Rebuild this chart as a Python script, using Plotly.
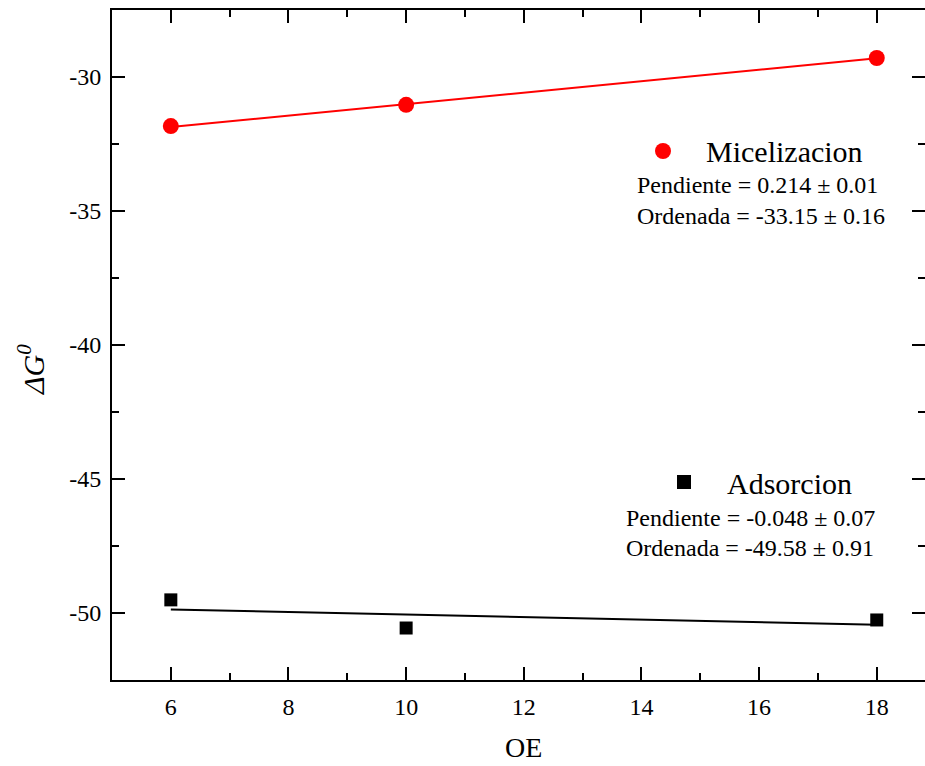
import plotly.graph_objects as go

oe = [6, 10, 18]
mic_vals = [-31.83, -31.04, -29.29]
ads_vals = [-49.51, -50.56, -50.26]
fit_x = [6, 18]
mic_fit = [-31.87, -29.30]
ads_fit = [-49.87, -50.44]

x_ticks = [6, 8, 10, 12, 14, 16, 18]
y_ticks = [-30, -35, -40, -45, -50]
y_ticktext = ["-30", "-35", "-40", "-45", "-50"]

mic_text = ["Pendiente = 0.214 ± 0.01", "Ordenada = -33.15 ± 0.16"]
ads_text = ["Pendiente = -0.048 ± 0.07", "Ordenada = -49.58 ± 0.91"]

FONT = "Liberation Serif, Times New Roman, serif"
XR = [5, 18.82]
YR = [-52.5, -27.5]

fig = go.Figure()
fig.add_trace(go.Scatter(x=fit_x, y=mic_fit, mode="lines", line=dict(color="red", width=2), showlegend=False))
fig.add_trace(go.Scatter(x=fit_x, y=ads_fit, mode="lines", line=dict(color="black", width=2), showlegend=False))
fig.add_trace(go.Scatter(x=oe, y=mic_vals, mode="markers", marker=dict(color="red", size=16, symbol="circle"), showlegend=False))
fig.add_trace(go.Scatter(x=oe, y=ads_vals, mode="markers", marker=dict(color="black", size=13, symbol="square"), showlegend=False))
# dummy trace to activate secondary axes
fig.add_trace(go.Scatter(x=[None], y=[None], xaxis="x2", yaxis="y2", showlegend=False))

tickfont = dict(family=FONT, size=24, color="black")
minor_x = dict(tickvals=[7, 9, 11, 13, 15, 17], ticks="inside", ticklen=7, tickwidth=2, tickcolor="black")
minor_y = dict(tickvals=[-32.5, -37.5, -42.5, -47.5], ticks="inside", ticklen=7, tickwidth=2, tickcolor="black")
fig.update_layout(
    width=925, height=766,
    margin=dict(l=112, r=0, t=10, b=86),
    paper_bgcolor="white", plot_bgcolor="white",
    showlegend=False,
    xaxis=dict(range=XR, tickvals=x_ticks, ticks="inside", ticklen=13, tickwidth=2,
               tickcolor="black", showline=True, linewidth=2, linecolor="black", showgrid=False, zeroline=False,
               minor=minor_x, tickfont=tickfont, ticklabelstandoff=4),
    yaxis=dict(range=YR, tickvals=y_ticks, ticktext=y_ticktext, ticks="inside", ticklen=13, tickwidth=2,
               tickcolor="black", showline=True, linewidth=2, linecolor="black", showgrid=False, zeroline=False,
               minor=minor_y, tickfont=tickfont, ticklabelstandoff=4),
    xaxis2=dict(overlaying="x", side="top", range=XR, tickvals=x_ticks, ticks="inside", ticklen=13,
                tickwidth=2, tickcolor="black", showline=True, linewidth=2, linecolor="black", showgrid=False,
                zeroline=False, showticklabels=False, minor=minor_x),
    yaxis2=dict(overlaying="y", side="right", range=YR, tickvals=y_ticks, ticks="inside", ticklen=13,
                tickwidth=2, tickcolor="black", showline=False, showgrid=False, zeroline=False, showticklabels=False,
                minor=minor_y),
)

def px(xp):
    return (xp - 112) / 813.0

def py(yp):
    return (680 - yp) / 670.0

# legend symbols
fig.add_shape(type="circle", xref="paper", yref="paper", xsizemode="pixel", ysizemode="pixel",
              xanchor=px(663), yanchor=py(151), x0=-8, x1=8, y0=-8, y1=8,
              fillcolor="red", line=dict(width=0))
fig.add_shape(type="rect", xref="paper", yref="paper", xsizemode="pixel", ysizemode="pixel",
              xanchor=px(684), yanchor=py(482), x0=-7, x1=7, y0=-7, y1=7,
              fillcolor="black", line=dict(width=0))

def ann(text, xp, yp, size, xanchor="left", angle=0):
    fig.add_annotation(text=text, xref="paper", yref="paper", x=px(xp), y=py(yp), xanchor=xanchor, yanchor="middle",
                       showarrow=False, font=dict(family=FONT, size=size, color="black"), borderpad=0, textangle=angle)

ann("Micelizacion", 705, 152, 30)
ann(mic_text[0], 636, 185, 24)
ann(mic_text[1], 636, 216, 24)
ann("Adsorcion", 726, 483, 30)
ann(ads_text[0], 625, 518, 24)
ann(ads_text[1], 625, 548, 24)

# axis titles
ann("OE", 523, 747, 28, xanchor="center")
ann("<i>ΔG<sup>0</sup></i>", 31, 370, 30, xanchor="center", angle=-90)

fig.write_html("out.html")
